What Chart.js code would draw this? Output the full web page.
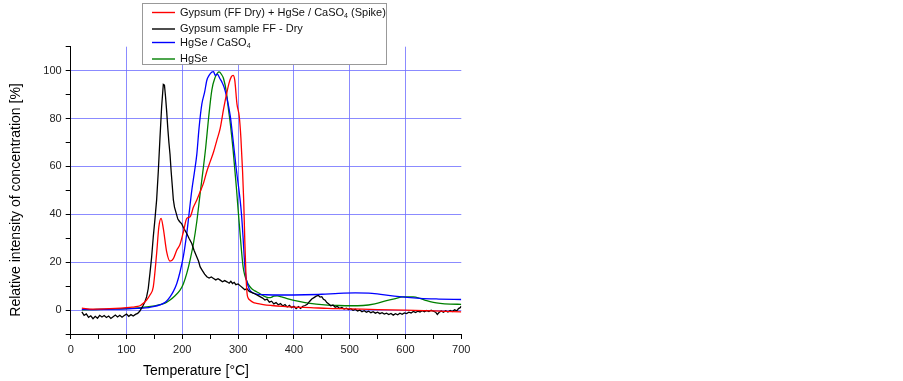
<!DOCTYPE html>
<html>
<head>
<meta charset="utf-8">
<script src="https://cdn.jsdelivr.net/npm/chart.js@4.4.1/dist/chart.umd.min.js"></script>
<style>
html,body{margin:0;padding:0;background:#fff;}
canvas{display:block;}
</style>
</head>
<body>
<canvas id="c" width="903" height="381"></canvas>
<script>
// ---- data ----
const seriesLabels = [
  "Gypsum (FF Dry) + HgSe / CaSO₄ (Spike)",
  "Gypsum sample FF - Dry",
  "HgSe / CaSO₄",
  "HgSe"
];
const seriesColors = ["#ff0000", "#000000", "#0000ff", "#008000"];

const redT = [20,40,60,80,100,110,120,125,130,136,142,148,154,158,162,166,172,178,184,190,196,202,208,214,220,226,232,238,244,250,256,262,268,274,280,284,288,291,294,298,302,305,308,310,312,314,316,318,321,327,333,345,360,380,400,430,460,500,550,600,650,700];
const redV = [0.8,0.4,0.5,0.7,1.0,1.2,1.5,1.9,2.8,4.2,6.3,9.7,23.6,34.8,38.3,34,24.3,20.4,21.5,25,27.5,32.7,38.3,39,43,46,49.4,53,58,62,66,71,76,84,91,95,97.5,98,96,86,81,72,58,46,29,15.3,7,5,4.2,3.2,2.8,2.3,1.9,1.5,1.2,1.0,0.7,0.5,0.2,0,-0.3,-0.8];

const blackT = [20,24,28,32,36,40,44,48,52,56,60,64,68,72,76,80,84,88,92,96,100,104,108,112,116,120,124,127,130,133,136,139,142,145,148,151,154,157,160,163,166,168,170,172,174,176,178,180,182,184,186,189,192,195,199,203,208,212,217,221,226,229,232,236,240,244,248,252,256,260,264,268,272,276,280,284,287,290,293,296,300,304,308,312,316,320,324,328,332,336,340,344,348,352,356,360,364,368,372,376,380,384,388,392,396,400,404,408,412,416,420,424,428,432,436,440,444,447,450,453,456,459,462,466,470,474,478,482,486,490,494,498,502,506,510,514,518,522,526,530,534,538,542,546,550,554,558,562,566,570,574,578,582,586,590,594,598,602,606,610,614,618,622,626,630,634,638,642,646,650,654,657,660,664,668,672,676,680,684,688,692,695,698,700];
const blackV = [-0.8,-2.2,-1.6,-3.0,-2.4,-3.6,-2.6,-3.4,-2.2,-2.9,-2.3,-3.1,-2.5,-3.5,-2.8,-2.1,-2.9,-2.2,-3.0,-2.3,-1.7,-2.6,-1.9,-2.5,-1.8,-1.4,-0.4,0.8,2.0,3.5,5.5,9,15.3,22,30.6,38,46,58,72,85,94.3,94,89,83,76,70,65,58,52,46,43,40.5,38,37,36,34,32,30,27.8,25,22.2,20.5,18,16.5,15,13.9,13.4,13.8,13.2,12.6,13.1,12.5,11.8,12.3,11.8,11.2,12,11.1,11.6,10.6,10.9,10.1,9.3,8.5,8.9,7.8,7.4,7.0,6.5,6.0,5.5,5.0,4.2,4.6,3.3,3.7,2.6,3.1,2.2,2.7,1.7,2.3,1.3,2.0,1.0,1.6,0.6,1.4,0.7,1.6,1.9,2.4,3.6,4.6,5.2,5.8,6.1,5.4,5.6,4.5,4.1,3.1,2.6,1.8,2.1,1.2,1.5,0.7,1.1,0.4,0.8,0.2,0.6,-0.1,0.3,-0.4,0.0,-0.7,-0.3,-0.9,-0.5,-1.1,-0.7,-1.3,-0.9,-1.5,-1.1,-1.7,-1.3,-1.9,-1.4,-2.1,-1.5,-2.0,-1.3,-1.8,-1.2,-1.5,-0.9,-1.2,-0.6,-1.0,-0.5,-0.8,-0.3,-0.7,-0.2,-0.6,-0.1,-0.5,-0.9,-1.8,-1.0,-0.4,-0.9,-0.3,-0.8,-0.2,-0.6,0.1,-0.3,0.6,1.0,1.6];

const blueT = [20,40,60,80,100,120,140,148,160,166,172,178,184,190,196,202,208,212,217,222,226,230,235,240,244,248,253,256,259,263,267,271,275,280,286,291,297,303,306,309,311,313,315,318,321,326,333,350,380,420,450,480,510,540,580,626,660,700];
const blueV = [0.3,0.2,0.3,0.4,0.5,0.7,1.0,1.4,2.2,2.8,3.8,5.5,7.8,11,16,22.5,32,40,50,58,65,76,86,91,96,98,99.4,99.6,98,98.5,96.8,95.2,93,88.5,81,71,58.4,47.3,40.3,30,22,16,12.5,10,8.3,7.2,6.7,6.4,6.3,6.4,6.6,7.0,7.2,7.0,5.8,4.9,4.6,4.4];

const greenT = [20,40,60,80,100,120,140,160,170,178,187,196,202,208,214,220,226,232,238,242,247,253,259,263,266,270,274,279,283,286,291,297,300,303,306,309,312,315,319,324,330,338,345,352,358,364,370,378,388,400,420,440,460,480,500,524,545,566,580,596,614,626,638,650,662,680,700];
const greenV = [0.1,0.2,0.3,0.5,0.6,0.9,1.4,2.3,3.0,4.2,6,8.3,11,15.3,21,27.8,37,48.7,60,68,80,92,97.3,99,99.5,98.5,96.6,91,83.4,78,67,51,42,33.4,25,18,14.5,12.5,10.5,9,8,7,6,5.3,5.2,5.8,5.9,5.5,4.8,4,3.1,2.5,2.1,1.9,1.8,1.9,2.6,3.9,4.7,5.5,5.5,4.9,3.9,3.2,2.8,2.5,2.4];

const xMin = 0, xMax = 700, xStep = 50, xLabelStep = 100;
const yMin = -10, yMax = 110, yStep = 10, yLabelStep = 20;
const xTitle = "Temperature [°C]";
const yTitle = "Relative intensity of concentration [%]";

const toPts = (T, V) => T.map((t, i) => ({x: t, y: V[i]}));
const FONT = "'Liberation Sans', Arial, sans-serif";
const GRID = "rgba(110,110,255,0.8)";

const legendPlugin = {
  id: 'boxLegend',
  afterDraw(chart) {
    const ctx = chart.ctx;
    ctx.save();
    ctx.fillStyle = '#fff';
    ctx.fillRect(142.5, 3.5, 244, 61);
    ctx.strokeStyle = '#999';
    ctx.lineWidth = 1;
    ctx.strokeRect(142.5, 3.5, 244, 61);
    const rows = [12.5, 29, 42.5, 59];
    chart.data.datasets.forEach((ds, i) => {
      const y = rows[i];
      ctx.strokeStyle = ds.borderColor;
      ctx.lineWidth = 1.4;
      ctx.beginPath(); ctx.moveTo(152, y); ctx.lineTo(175, y); ctx.stroke();
      ctx.fillStyle = '#111';
      ctx.textBaseline = 'middle';
      ctx.textAlign = 'left';
      let x = 180;
      const parts = ds.label.split('₄');
      parts.forEach((p, k) => {
        ctx.font = '11px ' + FONT;
        ctx.fillText(p, x, y);
        x += ctx.measureText(p).width;
        if (k < parts.length - 1) {
          ctx.font = '7px ' + FONT;
          ctx.fillText('4', x, y + 4);
          x += ctx.measureText('4').width;
        }
      });
    });
    // axis titles
    ctx.fillStyle = '#000';
    ctx.font = '14px ' + FONT;
    ctx.textAlign = 'center';
    ctx.textBaseline = 'middle';
    ctx.fillText(xTitle, 196, 371);
    ctx.translate(16, 200);
    ctx.rotate(-Math.PI / 2);
    ctx.fillText(yTitle, 0, 0);
    ctx.restore();
  }
};

new Chart(document.getElementById('c'), {
  type: 'line',
  data: {
    datasets: [
      {label: seriesLabels[0], data: toPts(redT, redV), borderColor: seriesColors[0], cubicInterpolationMode: 'monotone'},
      {label: seriesLabels[1], data: toPts(blackT, blackV), borderColor: seriesColors[1], tension: 0},
      {label: seriesLabels[2], data: toPts(blueT, blueV), borderColor: seriesColors[2], cubicInterpolationMode: 'monotone'},
      {label: seriesLabels[3], data: toPts(greenT, greenV), borderColor: seriesColors[3], cubicInterpolationMode: 'monotone'}
    ]
  },
  options: {
    responsive: false,
    animation: false,
    devicePixelRatio: 1,
    layout: {padding: {left: 0, top: 46.7, right: 441.7, bottom: 0}},
    elements: {point: {radius: 0}, line: {borderWidth: 1.3, fill: false}},
    plugins: {legend: {display: false}, tooltip: {enabled: false}},
    scales: {
      x: {
        type: 'linear', min: xMin, max: xMax,
        afterFit(s) { s.height = 47; },
        ticks: {
          stepSize: xStep, autoSkip: false, maxRotation: 0, padding: 4,
          color: '#222', font: {family: FONT, size: 11},
          callback: v => (v % xLabelStep === 0 ? String(v) : '')
        },
        grid: {
          color: c => (c.tick && c.tick.value % xLabelStep === 0 && c.tick.value > xMin && c.tick.value < xMax) ? GRID : 'rgba(0,0,0,0)',
          tickColor: '#000', tickLength: 5, lineWidth: 1
        },
        border: {display: true, color: '#000', width: 1}
      },
      y: {
        type: 'linear', min: yMin, max: yMax,
        afterFit(s) { s.width = 70.7; },
        ticks: {
          stepSize: yStep, autoSkip: false, padding: 4,
          color: '#222', font: {family: FONT, size: 11},
          callback: v => (v % yLabelStep === 0 && v >= 0 && v <= 100 ? String(v) : '')
        },
        grid: {
          color: c => (c.tick && c.tick.value % yLabelStep === 0 && c.tick.value >= 0 && c.tick.value <= 100) ? GRID : 'rgba(0,0,0,0)',
          tickColor: '#000', tickLength: 5, lineWidth: 1
        },
        border: {display: true, color: '#000', width: 1}
      }
    }
  },
  plugins: [legendPlugin]
});
</script>
</body>
</html>
